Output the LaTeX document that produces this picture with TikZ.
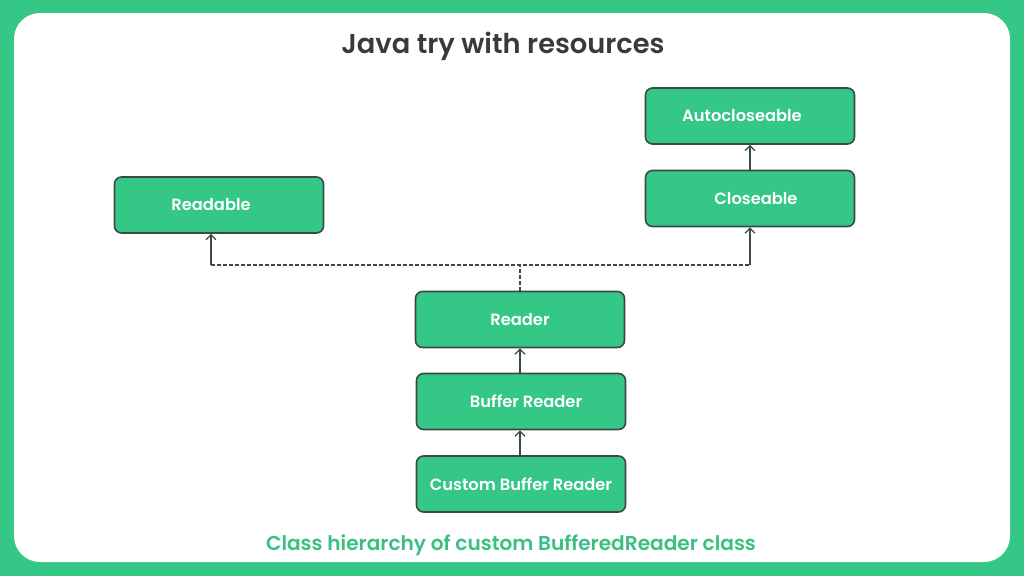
\documentclass[tikz,border=0pt]{standalone}
\usepackage{fontspec}
\setmainfont{Poppins}[BoldFont={* SemiBold}]
\usetikzlibrary{arrows.meta}
\definecolor{gfg}{HTML}{34C786}
\definecolor{capgreen}{HTML}{3BBF85}
\definecolor{edge}{HTML}{3A4A44}
\definecolor{titlec}{HTML}{3A3A3A}
\tikzset{
  cls/.style={draw=edge, line width=1.6pt, fill=gfg, rounded corners=7pt,
    minimum width=209pt, minimum height=56pt, text=white, font=\fontsize{16.3}{18}\selectfont\bfseries},
  arr/.style={draw=edge, line width=1.4pt, -{Straight Barb[length=5pt,width=10pt,line width=1.3pt]}},
  dsh/.style={draw=edge, line width=1.4pt, dash pattern=on 3.5pt off 2.5pt}
}
\begin{document}
\begin{tikzpicture}[x=1pt,y=-1pt]
\fill[gfg] (0,0) rectangle (1024,576);
\fill[white, rounded corners=26pt] (14,13) rectangle (1010,562);
\useasboundingbox (0,0) rectangle (1024,576);
\node[font=\fontsize{27.3}{30}\selectfont\bfseries, text=titlec] (title) at (503,46) {Java try with resources};
\node[cls] (Readable) at (219,205) {Readable\hspace*{16pt}};
\node[cls] (Autocloseable) at (750,116) {Autocloseable\hspace*{16pt}};
\node[cls] (Closeable) at (750,198.5) {\hspace*{12pt}Closeable};
\node[cls] (Reader) at (520,319.5) {Reader};
\node[cls] (Buffer) at (521,401.5) {\hspace*{10pt}Buffer Reader};
\node[cls] (Custom) at (521,484) {Custom Buffer Reader};
\node[font=\fontsize{20.1}{23}\selectfont\bfseries, text=capgreen] (caption) at (511,545) {Class hierarchy of custom BufferedReader class};
\coordinate (jl) at (211,265);
\coordinate (jr) at (750,265);
\coordinate (jm) at (520,265);
\draw[dsh] (jl) -- (jr);
\draw[dsh] (Reader.north) -- (jm);
\draw[arr] (jl) -- (jl |- Readable.south);
\draw[arr] (jr) -- (Closeable.south);
\draw[arr] (Closeable.north) -- (Autocloseable.south);
\draw[arr] (Buffer.north -| Reader.south) -- (Reader.south);
\draw[arr] (Custom.north -| Reader.south) -- (Reader.south |- Buffer.south);
\end{tikzpicture}
\end{document}
